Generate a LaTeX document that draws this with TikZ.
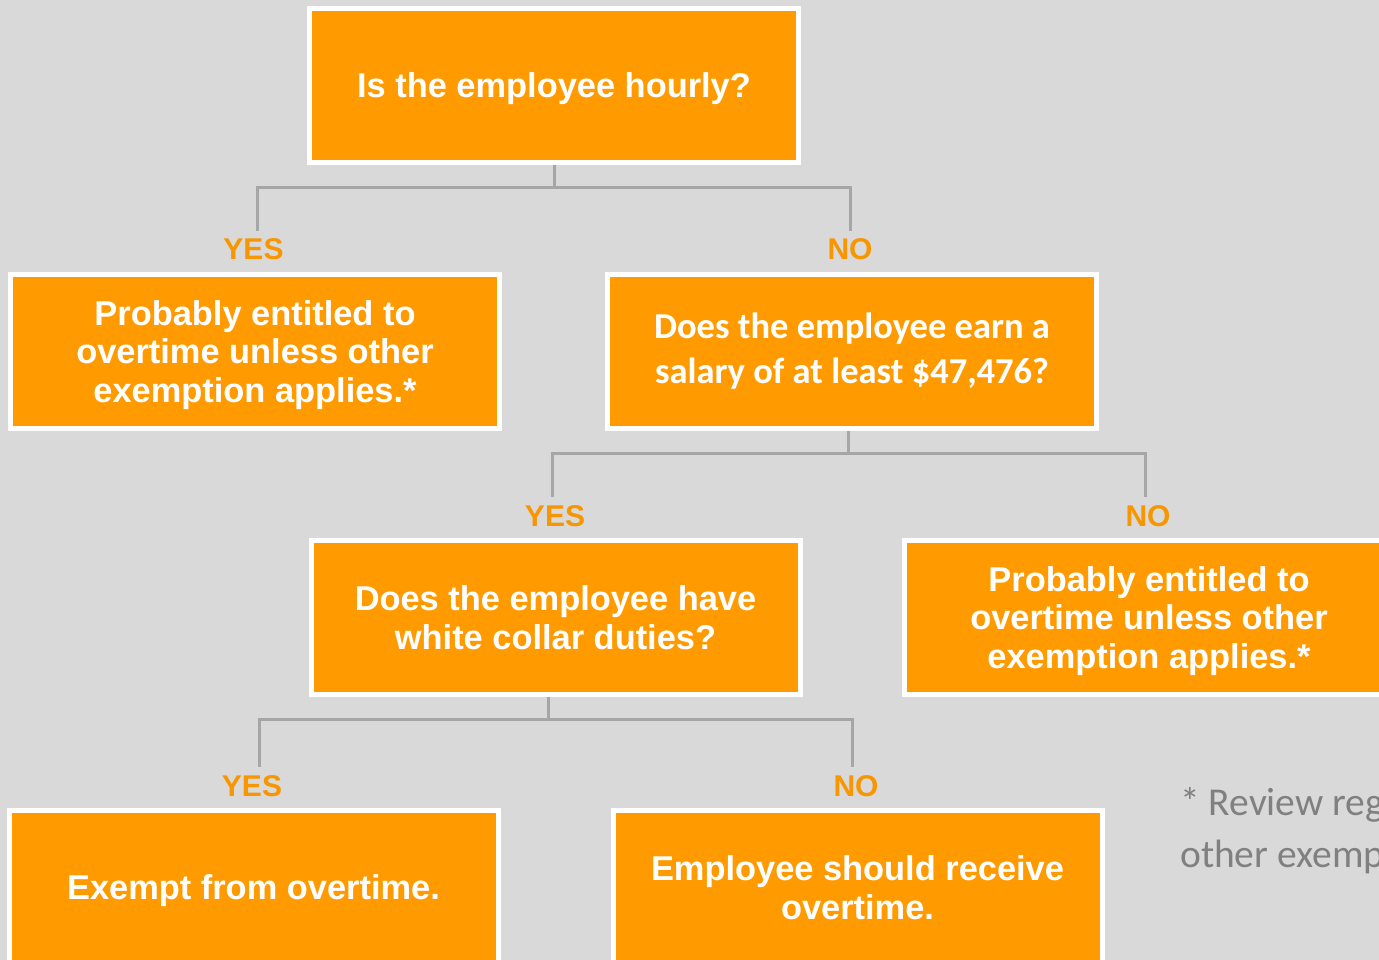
\documentclass[tikz,border=0pt]{standalone}
\usepackage{fontspec}
\usetikzlibrary{calc}
\setmainfont{Liberation Sans}
\newfontfamily\arialbold[BoldFont={Liberation Sans Bold}]{Liberation Sans}
\newfontfamily\calibrifont{Carlito}
\definecolor{bgrey}{RGB}{217,217,217}
\definecolor{boxorange}{RGB}{255,155,0}
\definecolor{lblorange}{RGB}{247,150,0}
\definecolor{connGrey}{RGB}{166,166,166}
\definecolor{noteGrey}{RGB}{128,128,128}
\begin{document}
\begin{tikzpicture}[x=1pt,y=-1pt,
  qbox/.style={draw=white, line width=5pt, fill=boxorange, text=white,
    minimum width=489pt, minimum height=154pt, inner sep=0pt, align=center,
    text depth=0pt,
    font=\fontsize{34.4}{38.5}\selectfont\arialbold\bfseries},
  cbox/.style={qbox, text depth={}, font=\fontsize{36.5}{45}\selectfont\calibrifont\bfseries},
  answer/.style={text=lblorange, inner sep=0pt, anchor=base,
    font=\fontsize{30}{34}\selectfont\arialbold\bfseries},
  conn/.style={draw=connGrey, line width=3pt, shorten >=8pt},
  note/.style={text=noteGrey, inner sep=0pt, anchor=base west,
    font=\fontsize{39.5}{48}\selectfont\calibrifont}]
  \useasboundingbox (0,0) rectangle (1379,960);
  \clip (0,0) rectangle (1379,960);
  \fill[bgrey] (0,0) rectangle (1379,960);

  % decision boxes
  \node[qbox] (hourly) at (554,85.5) {Is the employee hourly?};
  \node[qbox] (ot1) at (255,351.5) {Probably entitled to\\overtime unless other\\exemption applies.*};
  \node[cbox] (salary) at (852,351.5) {Does the employee earn a\\salary of at least \$47,476?};
  \node[qbox] (duties) at (555.5,617.5) {Does the employee have\\white collar duties?};
  \node[qbox] (ot2) at (1149,617.5) {Probably entitled to\\overtime unless other\\exemption applies.*};
  \node[qbox] (exempt) at (253.5,887.5) {Exempt from overtime.};
  \node[qbox] (receive) at (857.5,887.5) {Employee should receive\\overtime.};

  % answer labels
  \node[answer] (yes1) at (253.5,260) {YES};
  \node[answer] (no1) at (850,260) {NO};
  \node[answer] (yes2) at (555,526) {YES};
  \node[answer] (no2) at (1148,526) {NO};
  \node[answer] (yes3) at (252,796) {YES};
  \node[answer] (no3) at (856,796) {NO};

  % branch connectors
  \draw[conn] (hourly.south) -- ++(0,23) -| ([xshift=4pt]yes1.north);
  \draw[conn] (hourly.south) -- ++(0,23) -| (no1.north);
  \draw[conn] ([xshift=-4pt]salary.south) -- ++(0,22) -| ([xshift=-3pt]yes2.north);
  \draw[conn] ([xshift=-4pt]salary.south) -- ++(0,22) -| ([xshift=-3pt]no2.north);
  \draw[conn] ([xshift=-7.5pt]duties.south) -- ++(0,22) -| ([xshift=7pt]yes3.north);
  \draw[conn] ([xshift=-7.5pt]duties.south) -- ++(0,22) -| ([xshift=-4pt]no3.north);

  % footnote
  \node[note] (note1) at (1180,815) {* Review regulations for};
  \node[note] (note2) at (1180,867) {other exemptions.};
\end{tikzpicture}
\end{document}
